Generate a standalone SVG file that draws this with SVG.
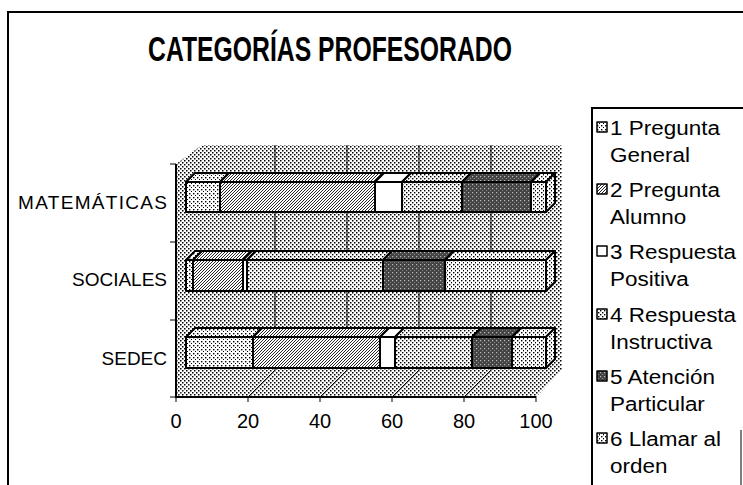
<svg xmlns="http://www.w3.org/2000/svg" width="743" height="485" viewBox="0 0 743 485">
<defs>
<pattern id="wall" width="4" height="4" patternUnits="userSpaceOnUse"><rect width="4" height="4" fill="#fff"/><rect x="0" y="0" width="1.5" height="1.5" fill="#000"/><rect x="2" y="2" width="1.5" height="1.5" fill="#000"/></pattern>
<pattern id="p1" width="4" height="4" patternUnits="userSpaceOnUse"><rect width="4" height="4" fill="#fff"/><rect x="1" y="1" width="1.4" height="1.4" fill="#000"/><rect x="3" y="3" width="1.4" height="1.4" fill="#000"/></pattern>
<pattern id="p2" width="3" height="3" patternUnits="userSpaceOnUse"><rect width="3" height="3" fill="#fff"/><path d="M-1,1 L1,-1 M0,3 L3,0 M2,4 L4,2" stroke="#000" stroke-width="0.85"/></pattern>
<pattern id="p4" width="4" height="4" patternUnits="userSpaceOnUse"><rect width="4" height="4" fill="#fff"/><rect x="0" y="2" width="1.4" height="1.4" fill="#000"/><rect x="2" y="0" width="1.4" height="1.4" fill="#000"/></pattern>
<pattern id="p5" width="4" height="4" patternUnits="userSpaceOnUse"><rect width="4" height="4" fill="#444"/><rect x="0" y="0" width="1.2" height="1.2" fill="#bbb"/><rect x="2" y="2" width="1" height="1" fill="#888"/></pattern>
<pattern id="p6" width="4" height="4" patternUnits="userSpaceOnUse"><rect width="4" height="4" fill="#fff"/><rect x="1" y="0" width="1.4" height="1.4" fill="#000"/><rect x="3" y="2" width="1.4" height="1.4" fill="#000"/></pattern>
</defs>
<style>
text{font-family:"Liberation Sans",Arial,sans-serif;fill:#000}
.title{font-size:35px;font-weight:bold}
.cat{font-size:19px;text-anchor:end}
.num{font-size:20px;text-anchor:middle}
.leg{font-size:21px}
.seg{stroke:#000;stroke-width:2;stroke-linejoin:round}
.grid{stroke:#000;stroke-width:1;fill:none}
.axis{stroke:#000;stroke-width:2;fill:none}
.f1{fill:url(#p1)}.f2{fill:url(#p2)}.f3{fill:#fff}.f4{fill:url(#p4)}.f5{fill:url(#p5)}.f6{fill:url(#p6)}
</style>
<rect width="743" height="485" fill="#fff"/>
<g id="frame">
<path d="M8,485 V12 H743" class="axis"/>
</g>
<g id="title"><text class="title" x="330" y="61" text-anchor="middle" textLength="364" lengthAdjust="spacingAndGlyphs">CATEGORÍAS PROFESORADO</text></g>
<g id="walls">
<rect x="202" y="145" width="360" height="225" fill="url(#wall)"/>
<polygon points="176,164 202,145 202,370 176,397" fill="url(#wall)"/>
<polygon points="176,397 536,397 562,370 202,370" fill="url(#wall)"/>
<g class="grid">
<path d="M275,145 V370 L248,397 M347,145 V370 L320,397 M419,145 V370 L392,397 M491,145 V370 L464,397"/>
</g>
<path class="axis" d="M176,164 V397 H536"/>
<path class="grid" d="M170,164 H176 M170,242 H176 M170,320 H176 M170,397 H176 M176,397 V402 M248,397 V402 M320,397 V402 M392,397 V402 M464,397 V402 M536,397 V402"/>
</g>
<g id="connectors"></g>
<g id="bar-matematicas" class="seg">
<rect class="f1" x="186" y="182" width="34" height="30"/>
<rect class="f2" x="220" y="182" width="155" height="30"/>
<rect class="f3" x="375" y="182" width="27" height="30"/>
<rect class="f4" x="402" y="182" width="60" height="30"/>
<rect class="f5" x="462" y="182" width="69" height="30"/>
<rect class="f6" x="531" y="182" width="15" height="30"/>
<polygon class="f1" points="186,182 220,182 229,173 195,173"/>
<polygon class="f2" points="220,182 375,182 384,173 229,173"/>
<polygon class="f3" points="375,182 402,182 411,173 384,173"/>
<polygon class="f4" points="402,182 462,182 471,173 411,173"/>
<polygon class="f5" points="462,182 531,182 540,173 471,173"/>
<polygon class="f6" points="531,182 546,182 555,173 540,173"/>
<polygon class="f6" points="546,182 555,173 555,203 546,212"/>
</g>
<g id="bar-sociales" class="seg">
<rect class="f1" x="186" y="260" width="7" height="31"/>
<rect class="f2" x="193" y="260" width="50" height="31"/>
<rect class="f3" x="243" y="260" width="4" height="31"/>
<rect class="f4" x="247" y="260" width="136" height="31"/>
<rect class="f5" x="383" y="260" width="62" height="31"/>
<rect class="f6" x="445" y="260" width="101" height="31"/>
<polygon class="f1" points="186,260 193,260 202,251 195,251"/>
<polygon class="f2" points="193,260 243,260 252,251 202,251"/>
<polygon class="f3" points="243,260 247,260 256,251 252,251"/>
<polygon class="f4" points="247,260 383,260 392,251 256,251"/>
<polygon class="f5" points="383,260 445,260 454,251 392,251"/>
<polygon class="f6" points="445,260 546,260 555,251 454,251"/>
<polygon class="f6" points="546,260 555,251 555,282 546,291"/>
</g>
<g id="bar-sedec" class="seg">
<rect class="f1" x="186" y="337" width="67" height="31"/>
<rect class="f2" x="253" y="337" width="127" height="31"/>
<rect class="f3" x="380" y="337" width="15" height="31"/>
<rect class="f4" x="395" y="337" width="77" height="31"/>
<rect class="f5" x="472" y="337" width="40" height="31"/>
<rect class="f6" x="512" y="337" width="34" height="31"/>
<polygon class="f1" points="186,337 253,337 262,328 195,328"/>
<polygon class="f2" points="253,337 380,337 389,328 262,328"/>
<polygon class="f3" points="380,337 395,337 404,328 389,328"/>
<polygon class="f4" points="395,337 472,337 481,328 404,328"/>
<polygon class="f5" points="472,337 512,337 521,328 481,328"/>
<polygon class="f6" points="512,337 546,337 555,328 521,328"/>
<polygon class="f6" points="546,337 555,328 555,359 546,368"/>
</g>
<g id="category-labels">
<text class="cat" x="167" y="209" textLength="149" lengthAdjust="spacing">MATEMÁTICAS</text>
<text class="cat" x="167" y="286">SOCIALES</text>
<text class="cat" x="167" y="365">SEDEC</text>
</g>
<g id="axis-labels">
<text class="num" x="176" y="428">0</text>
<text class="num" x="248" y="428">20</text>
<text class="num" x="320" y="428">40</text>
<text class="num" x="392" y="428">60</text>
<text class="num" x="464" y="428">80</text>
<text class="num" x="536" y="428">100</text>
</g>
<g id="legend">
<path class="axis" d="M592,485 V108 H743"/>
<path class="grid" d="M741,430 V485"/>
<g class="seg" style="stroke-width:1.5">
<rect class="f1" x="597" y="122" width="10" height="10"/>
<rect class="f2" x="597" y="184" width="10" height="10"/>
<rect class="f3" x="597" y="246" width="10" height="10"/>
<rect class="f4" x="597" y="309" width="10" height="10"/>
<rect class="f5" x="597" y="371" width="10" height="10"/>
<rect class="f6" x="597" y="433" width="10" height="10"/>
</g>
<g transform="translate(610,0) scale(1.07,1)">
<text class="leg" x="0" y="135">1 Pregunta</text>
<text class="leg" x="0" y="162">General</text>
<text class="leg" x="0" y="197">2 Pregunta</text>
<text class="leg" x="0" y="224">Alumno</text>
<text class="leg" x="0" y="259">3 Respuesta</text>
<text class="leg" x="0" y="286">Positiva</text>
<text class="leg" x="0" y="322">4 Respuesta</text>
<text class="leg" x="0" y="349">Instructiva</text>
<text class="leg" x="0" y="384">5 Atención</text>
<text class="leg" x="0" y="411">Particular</text>
<text class="leg" x="0" y="446">6 Llamar al</text>
<text class="leg" x="0" y="473">orden</text>
</g>
</g>
</svg>
